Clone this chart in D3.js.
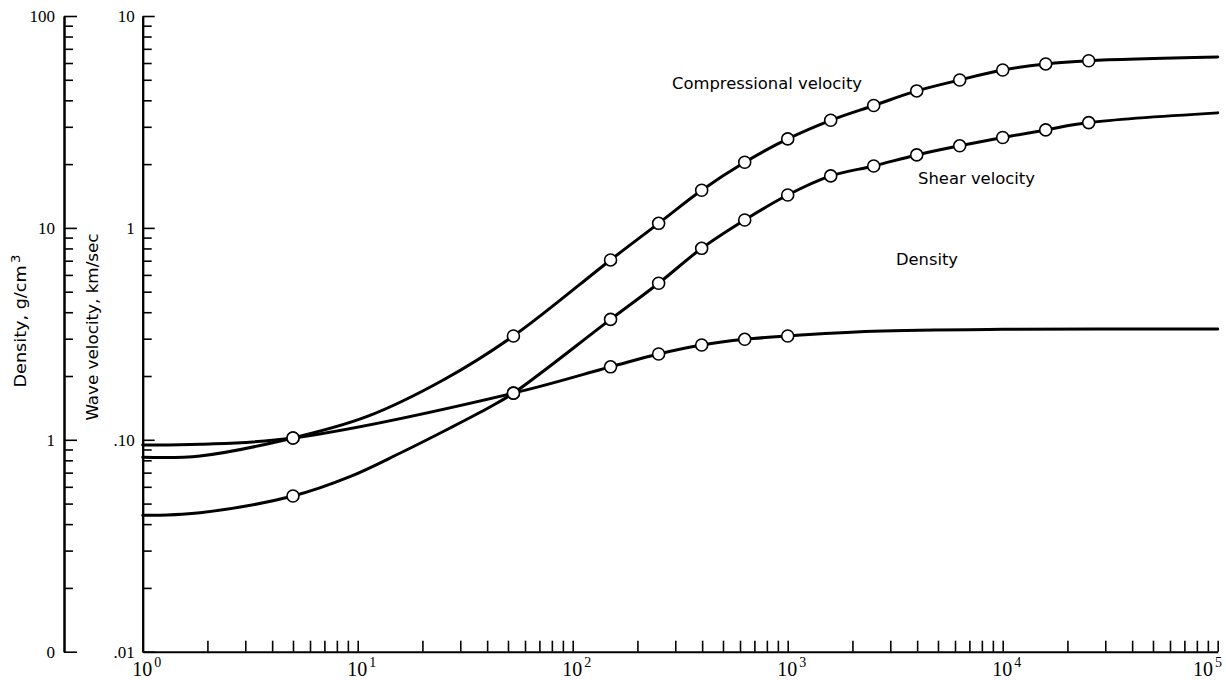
<!DOCTYPE html>
<html>
<head>
<meta charset="utf-8">
<script src="https://cdn.jsdelivr.net/npm/d3@7"></script>
<style>
  html, body { margin: 0; padding: 0; background: #fff; }
  svg { display: block; }
</style>
</head>
<body>
<script>
// ---------------- data ----------------
// each point: [x, value, marker(1) or plain curve point(0)]
const compressional = [
  [1, 0.0828, 0], [1.85, 0.0839, 0], [5, 0.102, 1], [11, 0.1285, 0], [25, 0.1915, 0],
  [53, 0.309, 1], [150, 0.706, 1], [251, 1.051, 1], [398, 1.505, 1],
  [631, 2.04, 1], [1000, 2.63, 1], [1585, 3.22, 1], [2512, 3.78, 1], [3981, 4.43, 1],
  [6310, 4.99, 1], [10000, 5.56, 1], [15849, 5.94, 1], [25119, 6.15, 1], [100000, 6.4, 0]
];
const shear = [
  [1, 0.044, 0], [1.85, 0.0453, 0], [5, 0.0543, 1], [9.2, 0.067, 0], [15.7, 0.0864, 0],
  [26.9, 0.1137, 0], [41.2, 0.1428, 0], [53, 0.166, 1], [150, 0.370, 1],
  [251, 0.548, 1], [398, 0.801, 1], [631, 1.09, 1], [1000, 1.43, 1], [1585, 1.76, 1],
  [2512, 1.96, 1], [3981, 2.21, 1], [6310, 2.44, 1], [10000, 2.67, 1], [15849, 2.90, 1],
  [25119, 3.14, 1], [100000, 3.49, 0]
];
const density = [
  [1, 0.945, 0], [1.85, 0.952, 0], [5, 1.02, 1], [53, 1.66, 1],
  [150, 2.21, 1], [251, 2.54, 1], [398, 2.80, 1], [631, 2.98, 1], [1000, 3.09, 1],
  [2500, 3.25, 0], [10000, 3.32, 0], [100000, 3.33, 0]
];

const xExponents = [0, 1, 2, 3, 4, 5];
const velocityTicks = [0.01, 0.1, 1, 10];
const velocityTickLabels = [".01", ".10", "1", "10"];
const densityTicks = [0.1, 1, 10, 100];
const densityTickLabels = ["0", "1", "10", "100"];

const curveLabels = [
  { text: "Compressional velocity", x: 672, y: 89, w: 190 },
  { text: "Shear velocity", x: 918, y: 184, w: 117 },
  { text: "Density", x: 896, y: 265, w: 62 }
];

// ---------------- layout ----------------
const W = 1226, H = 680;
const X0 = 142.7, X1 = 1217.7, Y0 = 651.7, Y1 = 16;
const DENS_AXIS_X = 64;

const serif = "'Liberation Serif', 'DejaVu Serif', serif";
const sans = "'Liberation Sans Narrow', 'DejaVu Sans Condensed', 'Liberation Sans', 'Noto Sans', sans-serif";

const svg = d3.select("body").append("svg")
  .attr("width", W).attr("height", H);
svg.append("rect").attr("width", W).attr("height", H).attr("fill", "#fff");

const x = d3.scaleLog().domain([1, 1e5]).range([X0, X1]);
const yV = d3.scaleLog().domain([0.01, 10]).range([Y0, Y1]);
const yD = d3.scaleLog().domain([0.1, 100]).range([Y0, Y1]);

function minorTicks(lo, hi) {
  const out = [];
  for (let p = Math.floor(Math.log10(lo)); p < Math.log10(hi); p++) {
    for (let m = 2; m <= 9; m++) {
      const v = m * Math.pow(10, p);
      if (v > lo && v < hi) out.push(v);
    }
  }
  return out;
}

function styleAxis(g) {
  g.selectAll("path.domain").attr("stroke", "#000").attr("stroke-width", 2);
  g.selectAll(".tick line").attr("stroke", "#000").attr("stroke-width", 1.6);
}

// ----- density axis (left) -----
const gD = svg.append("g").attr("transform", `translate(${DENS_AXIS_X},0)`);
gD.call(d3.axisLeft(yD).tickValues(minorTicks(0.1, 100)).tickSizeInner(-9).tickSizeOuter(0).tickFormat(""));
styleAxis(gD);
const gD2 = svg.append("g").attr("transform", `translate(${DENS_AXIS_X},0)`);
gD2.call(d3.axisLeft(yD).tickValues(densityTicks).tickSizeInner(-13).tickSizeOuter(0).tickPadding(9)
  .tickFormat((d, i) => densityTickLabels[i]));
styleAxis(gD2);
gD2.selectAll("text").attr("font-family", serif).attr("font-size", 17).attr("fill", "#000");

// ----- velocity axis -----
const gV = svg.append("g").attr("transform", `translate(${X0},0)`);
gV.call(d3.axisLeft(yV).tickValues(minorTicks(0.01, 10)).tickSizeInner(-9).tickSizeOuter(0).tickFormat(""));
styleAxis(gV);
const gV2 = svg.append("g").attr("transform", `translate(${X0},0)`);
gV2.call(d3.axisLeft(yV).tickValues(velocityTicks).tickSizeInner(-12).tickSizeOuter(0).tickPadding(8)
  .tickFormat((d, i) => velocityTickLabels[i]));
styleAxis(gV2);
gV2.selectAll("text").attr("font-family", serif).attr("font-size", 17).attr("fill", "#000");

// ----- x axis -----
const xTickVals = minorTicks(1, 1e5).concat(xExponents.slice(1).map(e => Math.pow(10, e)));
const gX = svg.append("g").attr("transform", `translate(0,${Y0})`);
gX.call(d3.axisBottom(x).tickValues(xTickVals).tickSizeInner(-11).tickSizeOuter(0).tickFormat(""));
styleAxis(gX);

const xl = svg.append("g").attr("font-family", serif).attr("fill", "#000");
xExponents.forEach(e => {
  // "10" centred on its tick; the last one is pulled in so it stays inside the frame
  const left = Math.min(x(Math.pow(10, e)) - 10.5, W - 33);
  const t = xl.append("text")
    .attr("x", left)
    .attr("y", 676)
    .attr("font-size", 20);
  t.append("tspan").text("10");
  t.append("tspan").attr("dy", -9).attr("dx", 2).attr("font-size", 14).text(String(e));
});

// ----- axis titles -----
const t1 = svg.append("text")
  .attr("transform", "translate(26,321) rotate(-90)")
  .attr("text-anchor", "middle")
  .attr("font-family", sans).attr("font-size", 16).attr("fill", "#000")
  .attr("textLength", 133).attr("lengthAdjust", "spacingAndGlyphs");
t1.append("tspan").text("Density, g/cm");
t1.append("tspan").attr("dy", -6).attr("dx", 2).attr("font-size", 12).text("3");

svg.append("text")
  .attr("transform", "translate(98,327) rotate(-90)")
  .attr("text-anchor", "middle")
  .attr("font-family", sans).attr("font-size", 16).attr("fill", "#000")
  .attr("textLength", 187).attr("lengthAdjust", "spacingAndGlyphs")
  .text("Wave velocity, km/sec");

// ----- curves -----
const lineV = d3.line().x(d => x(d[0])).y(d => yV(d[1])).curve(d3.curveCatmullRom.alpha(0.5));
const lineD = d3.line().x(d => x(d[0])).y(d => yD(d[1])).curve(d3.curveCatmullRom.alpha(0.5));

const series = [
  { data: density, line: lineD, y: yD },
  { data: shear, line: lineV, y: yV },
  { data: compressional, line: lineV, y: yV }
];

series.forEach(s => {
  svg.append("path").attr("d", s.line(s.data))
    .attr("fill", "none").attr("stroke", "#000").attr("stroke-width", 3)
    .attr("stroke-linejoin", "round").attr("stroke-linecap", "round");
});
series.forEach(s => {
  svg.append("g").selectAll("circle")
    .data(s.data.filter(d => d[2] === 1))
    .join("circle")
    .attr("cx", d => x(d[0])).attr("cy", d => s.y(d[1]))
    .attr("r", 6).attr("fill", "#fff").attr("stroke", "#000").attr("stroke-width", 1.6);
});

// ----- curve labels -----
svg.append("g").selectAll("text").data(curveLabels).join("text")
  .attr("x", d => d.x).attr("y", d => d.y)
  .attr("font-family", sans).attr("font-size", 16).attr("fill", "#000")
  .attr("textLength", d => d.w).attr("lengthAdjust", "spacingAndGlyphs")
  .text(d => d.text);
</script>
</body>
</html>
